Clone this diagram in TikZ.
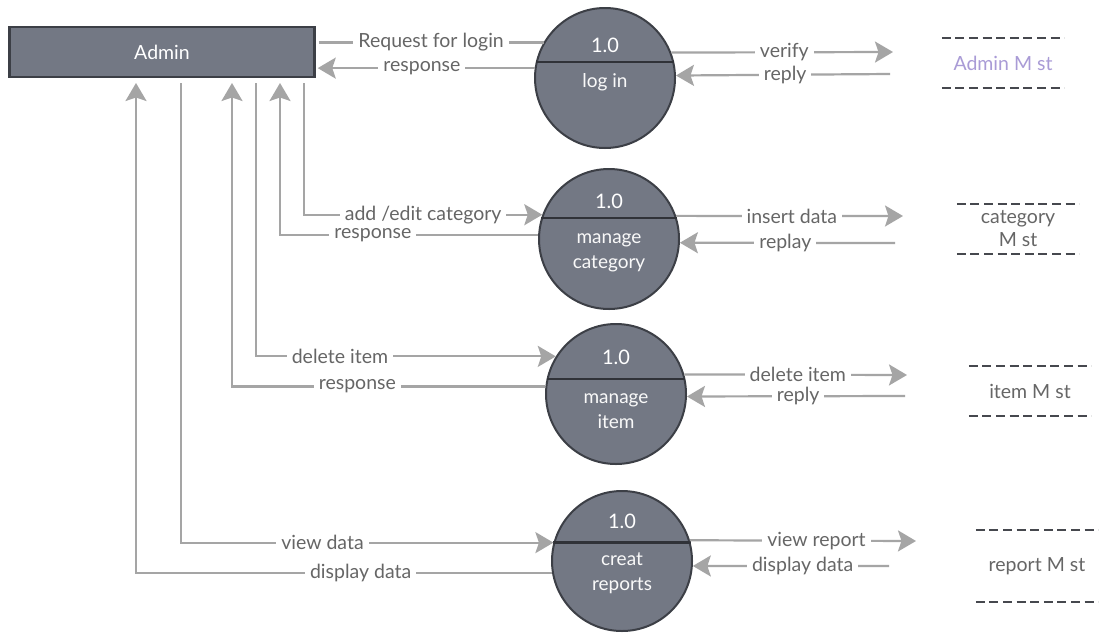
\documentclass[tikz,border=0pt]{standalone}
\usepackage{fontspec}
\setmainfont{Lato}
\usetikzlibrary{positioning, calc, arrows.meta}

\definecolor{procfill}{HTML}{737884}
\definecolor{procedge}{HTML}{3C3F46}
\definecolor{flowgray}{HTML}{A5A5A5}
\definecolor{labelgray}{HTML}{666666}
\definecolor{dashgray}{HTML}{46484E}
\definecolor{lavender}{HTML}{A99BD6}

\tikzset{
  entity/.style={draw=procedge, line width=2.5pt, fill=procfill, minimum width=305pt,
    minimum height=50pt, text=white, font=\fontsize{19.5}{23}\selectfont},
  process/.style={circle, draw=procedge, line width=2pt, fill=procfill,
    minimum size=140pt, inner sep=0pt},
  divider/.style={draw=procedge!80!black, line width=2.5pt},
  pnum/.style={text=white, font=\fontsize{20}{23}\selectfont},
  ptext/.style={text=white!95!gray, align=center, font=\fontsize{19}{25}\selectfont},
  flow/.style={draw=flowgray, line width=2.2pt, -{Stealth[length=18pt, width=21pt, inset=3.5pt]}},
  plain/.style={draw=flowgray, line width=2.2pt},
  lbl/.style={fill=white, text=labelgray, inner xsep=5pt, inner ysep=1.5pt,
    font=\fontsize{19.5}{22}\selectfont},
  store/.style={minimum width=122pt, minimum height=50pt, inner sep=0pt, text=labelgray,
    align=center, font=\fontsize{19.5}{23}\selectfont},
  dashes/.style={draw=dashgray, line width=2.5pt, dash pattern=on 9pt off 4.6pt},
}

\begin{document}
\begin{tikzpicture}[x=1pt, y=-1pt]
  \useasboundingbox[fill=white] (0,0) rectangle (1099,632);

  % external entity
  \node[entity] (admin) at (162,52) {Admin};

  % processes
  \node[process] (login) at (605,78)  {};
  \node[process] (cat)   at (609,239) {};
  \node[process] (item)  at (616,394) {};
  \node[process] (rep)   at (622,561) {};

  \draw[divider] (login.167) -- (login.13);
  \draw[divider] (cat.163)   -- (cat.17);
  \draw[divider] (item.168)  -- (item.12);
  \draw[divider] (rep.165)   -- (rep.15);

  \node[pnum] (login-no) at ($(login)+(0,-33)$) {1.0};
  \node[pnum] (cat-no)   at ($(cat)+(0,-38)$)   {1.0};
  \node[pnum] (item-no)  at ($(item)+(0,-37)$)  {1.0};
  \node[pnum] (rep-no)   at ($(rep)+(0,-40)$)   {1.0};

  \node[ptext] (login-tx) at ($(login)+(0,4)$)  {log in};
  \node[ptext] (cat-tx)   at ($(cat)+(0,14)$)   {manage\\category};
  \node[ptext] (item-tx)  at ($(item)+(0,17)$)  {manage\\item};
  \node[ptext] (rep-tx)   at ($(rep)+(0,12)$)   {creat\\reports};

  % data stores
  \node[store, text=lavender] (st-admin) at (1003,63)  {Admin M st};
  \node[store] (st-cat)   at (1018,229) {category\\M st};
  \node[store] (st-item)  at (1030,391) {item M st};
  \node[store, minimum height=72pt] (st-rep) at (1037,566) {report M st};
  \foreach \s in {st-admin, st-cat, st-item, st-rep}{
    \draw[dashes] (\s.north west) -- (\s.north east);
    \draw[dashes] (\s.south west) -- (\s.south east);
  }

  % free ends
  \coordinate (up1) at (136,83);   % display data
  \coordinate (dn1) at (181,83);   % view data
  \coordinate (up2) at (232,83);   % response item
  \coordinate (dn2) at (256,83);   % delete item
  \coordinate (up3) at (280,83);   % response category
  \coordinate (dn3) at (304,83);   % add/edit
  \coordinate (st1-in)  at (893,52);
  \coordinate (st1-out) at (890,74);
  \coordinate (st2-in)  at (903,216);
  \coordinate (st2-out) at (895,243);
  \coordinate (st3-in)  at (907,375);
  \coordinate (st3-out) at (905,396);
  \coordinate (st4-in)  at (916,541);
  \coordinate (st4-out) at (889,566);

  % log in
  \draw[plain] ($(admin.east |- login.150)+(3,0)$) -- (login.150)
    node[lbl, pos=.5] (l-req) {Request for login};
  \draw[flow] (login.172) -- ($(admin.east |- login.172)+(2,0)$)
    node[lbl, pos=.52] (l-resp1) {response};
  \draw[flow] (login.21) -- (st1-in) node[lbl, pos=.51] (l-ver) {verify};
  \draw[flow] (st1-out) -- (login.2) node[lbl, pos=.49] (l-rep1) {reply};

  % manage category
  \draw[flow] (dn3) |- (cat.160) node[lbl, pos=.75] (l-add) {add /edit category};
  \draw[flow] (cat.177) -| (up3) node[lbl, pos=.32] (l-resp2) {response};
  \draw[flow] (cat.19) -- (st2-in) node[lbl, pos=.51] (l-ins) {insert data};
  \draw[flow] (st2-out) -- (cat.-3) node[lbl, pos=.51] (l-rep2) {replay};

  % manage item
  \draw[flow] (dn2) |- (item.148) node[lbl, pos=.64] (l-del) {delete item};
  \draw[flow] (item.174) -| (up2) node[lbl, pos=.30] (l-resp3) {response};
  \draw[flow] (item.16) -- (st3-in) node[lbl, pos=.51] (l-del2) {delete item};
  \draw[flow] (st3-out) -- (item.-2) node[lbl, pos=.49] (l-rep3) {reply};

  % creat reports
  \draw[flow] (dn1) |- (rep.165) node[lbl, pos=.69] (l-view) {view data};
  \draw[flow] (rep.190) -| (up1) node[lbl, pos=.23] (l-disp) {display data};
  \draw[flow] (rep.17) -- (st4-in) node[lbl, pos=.56] (l-vrep) {view report};
  \draw[flow] (st4-out) -- (rep.-4) node[lbl, pos=.44] (l-disp2) {display data};
\end{tikzpicture}
\end{document}
